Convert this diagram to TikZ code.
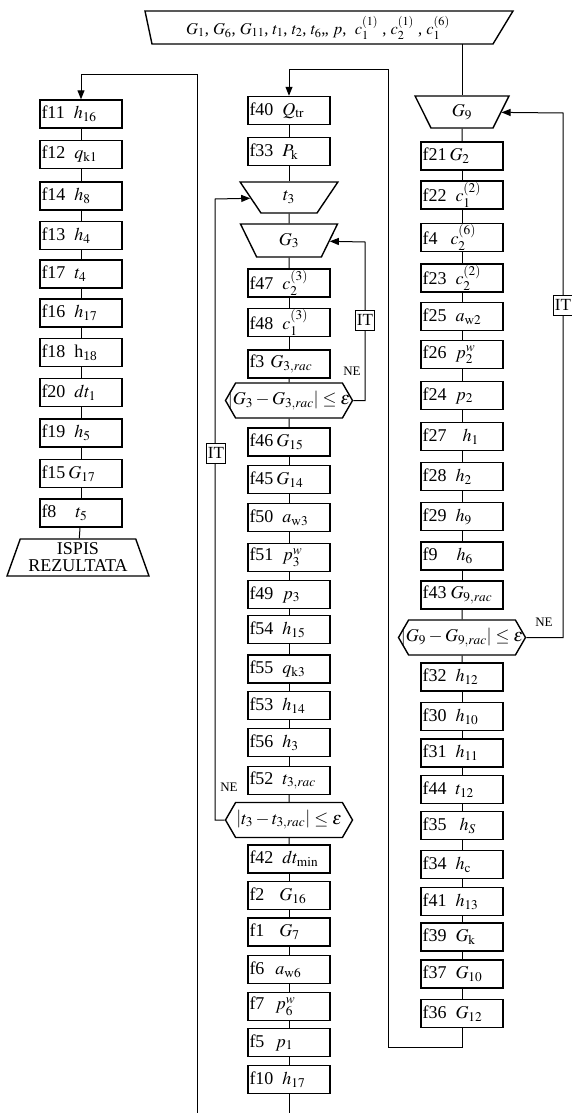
\documentclass[tikz,border=0pt]{standalone}
\usepackage{mathptmx}
\usepackage[no-math]{fontspec}
\setmainfont{Liberation Serif}
\usetikzlibrary{shapes.geometric,shapes.symbols,arrows.meta}
\tikzset{
  every node/.style={font=\fontsize{18}{20}\selectfont},
  box/.style={draw, line width=1.4pt, minimum height=28pt, text width=79pt, inner xsep=1.5pt, inner ysep=0pt, align=left},
  ln/.style={line width=1pt},
  arr/.style={line width=1pt, -{Triangle[length=9pt,width=7pt]}},
  trap/.style={draw, line width=1.4pt, trapezium, trapezium stretches=true, inner sep=0pt},
  dec/.style={draw, line width=1.4pt, signal, signal to=west and east, signal pointer angle=120, minimum height=35pt, inner xsep=0pt, inner ysep=0pt},
  itbox/.style={draw, fill=white, line width=1pt, inner xsep=1.5pt, inner ysep=1pt, minimum height=20pt, font=\fontsize{17}{18}\selectfont},
  lbl/.style={font=\fontsize{13}{15}\selectfont, inner sep=0pt}
}
\begin{document}
\begin{tikzpicture}[x=1pt,y=-1pt]
\useasboundingbox (0,0) rectangle (572,1113);
% input
\draw[line width=1.4pt] (145,11) -- (513,11) -- (493,44) -- (152,44) -- cycle;
\node[font=\fontsize{16.5}{19}\selectfont] (in) at (318,28) {$G_1$, $G_6$, $G_{11}$, $t_1$, $t_2$, $t_6$,, $p$, \ $c_1^{(1)}$ , $c_2^{(1)}$ , $c_1^{(6)}$};
\coordinate (inb) at (462,44);
% left column
\node[box] (l11) at (81,114) {f11\hspace{9pt}$h_{16}$};
\node[box] (l12) at (81,154.5) {f12\hspace{9pt}$q_{\mathrm{k1}}$};
\node[box] (l14) at (81,196) {f14\hspace{9pt}$h_8$};
\node[box] (l13) at (81,235.5) {f13\hspace{9pt}$h_4$};
\node[box] (l17) at (81,274) {f17\hspace{9pt}$t_4$};
\node[box] (l16) at (81,313) {f16\hspace{9pt}$h_{17}$};
\node[box] (l18) at (81,352.5) {f18\hspace{9pt}h\textsubscript{18}};
\node[box] (l20) at (81,392.5) {f20\hspace{9pt}$dt_1$};
\node[box] (l19) at (81,433) {f19\hspace{9pt}$h_5$};
\node[box] (l15) at (81,473.5) {f15\hspace{3pt}$G_{17}$};
\node[box] (l8) at (81,513) {f8\hspace{19pt}$t_5$};
\node[trap, trapezium angle=68.6, minimum width=142pt, minimum height=37pt, align=center, font=\fontsize{18}{17}\selectfont] (lout) at (78,557.5) {ISPIS\\REZULTATA};
% middle column
\node[box] (m40) at (289,110.5) {f40\hspace{9pt}$Q_{\mathrm{tr}}$};
\node[box] (m33) at (289,151.5) {f33\hspace{9pt}$P_{\mathrm{k}}$};
\node[trap, shape border rotate=180, trapezium angle=71, minimum width=98pt, minimum height=31pt] (mt3) at (289,197.5) {$t_3$};
\node[trap, shape border rotate=180, trapezium angle=71.5, minimum width=97pt, minimum height=33pt] (mG3) at (289,240.5) {$G_3$};
\node[box] (m47) at (289,283) {f47\hspace{9pt}$c_2^{(3)}$};
\node[box] (m48) at (289,322.5) {f48\hspace{9pt}$c_1^{(3)}$};
\node[box] (m3) at (289,364) {f3\hspace{6pt}$G_{3,rac}$};
\node[dec, minimum width=127pt] (md1) at (289,400.5) {\makebox[98pt]{$\left|G_3-G_{3,rac}\right|\le\varepsilon$}};
\node[box] (m46) at (289,442) {f46\hspace{3pt}$G_{15}$};
\node[box] (m45) at (289,479.5) {f45\hspace{3pt}$G_{14}$};
\node[box] (m50) at (289,517.5) {f50\hspace{9pt}$a_{\mathrm{w3}}$};
\node[box] (m51) at (289,557.5) {f51\hspace{9pt}$p_3^{w}$};
\node[box] (m49) at (289,594.5) {f49\hspace{9pt}$p_3$};
\node[box] (m54) at (289,629.5) {f54\hspace{9pt}$h_{15}$};
\node[box] (m55) at (289,669) {f55\hspace{9pt}$q_{\mathrm{k3}}$};
\node[box] (m53) at (289,705.5) {f53\hspace{9pt}$h_{14}$};
\node[box] (m56) at (289,742.5) {f56\hspace{9pt}$h_3$};
\node[box] (m52) at (289,780.5) {f52\hspace{9pt}$t_{3,rac}$};
\node[dec, minimum width=127pt] (md2) at (289,820) {\makebox[98pt]{$\left|t_3-t_{3,rac}\right|\le\varepsilon$}};
\node[box] (m42) at (289,859) {f42\hspace{9pt}$dt_{\min}$};
\node[box] (m2) at (289,895.5) {f2\hspace{15pt}$G_{16}$};
\node[box] (m1) at (289,932) {f1\hspace{15pt}$G_7$};
\node[box] (m6) at (289,969.5) {f6\hspace{11pt}$a_{\mathrm{w6}}$};
\node[box] (m7) at (289,1006.5) {f7\hspace{11pt}$p_6^{w}$};
\node[box] (m5) at (289,1042.5) {f5\hspace{11pt}$p_1$};
\node[box] (m10) at (289,1079.5) {f10\hspace{9pt}$h_{17}$};
% right column
\node[trap, shape border rotate=180, trapezium angle=71, minimum width=94pt, minimum height=32pt] (rG9) at (462,112) {$G_9$};
\node[box] (r21) at (462,156) {f21\hspace{3pt}$G_2$};
\node[box] (r22) at (462,195) {f22\hspace{9pt}$c_1^{(2)}$};
\node[box] (r4) at (462,237.5) {f4\hspace{13pt}$c_2^{(6)}$};
\node[box] (r23) at (462,278) {f23\hspace{9pt}$c_2^{(2)}$};
\node[box] (r25) at (462,316.5) {f25\hspace{9pt}$a_{\mathrm{w2}}$};
\node[box] (r26) at (462,354.5) {f26\hspace{9pt}$p_2^{w}$};
\node[box] (r24) at (462,395.5) {f24\hspace{9pt}$p_2$};
\node[box] (r27) at (462,436.5) {f27\hspace{16pt}$h_1$};
\node[box] (r28) at (462,476.5) {f28\hspace{9pt}$h_2$};
\node[box] (r29) at (462,516.5) {f29\hspace{9pt}$h_9$};
\node[box] (r9) at (462,556) {f9\hspace{19pt}$h_6$};
\node[box] (r43) at (462,595) {f43\hspace{4pt}$G_{9,rac}$};
\node[dec, minimum width=127pt] (rd) at (462,637.5) {\makebox[98pt]{$\left|G_9-G_{9,rac}\right|\le\varepsilon$}};
\node[box] (r32) at (462,677) {f32\hspace{9pt}$h_{12}$};
\node[box] (r30) at (462,716.5) {f30\hspace{9pt}$h_{10}$};
\node[box] (r31) at (462,753) {f31\hspace{9pt}$h_{11}$};
\node[box] (r44) at (462,789.5) {f44\hspace{9pt}$t_{12}$};
\node[box] (r35) at (462,825.5) {f35\hspace{13pt}$h_S$};
\node[box] (r34) at (462,864.5) {f34\hspace{9pt}$h_{\mathrm{c}}$};
\node[box] (r41) at (462,901.5) {f41\hspace{9pt}$h_{13}$};
\node[box] (r39) at (462,937) {f39\hspace{9pt}$G_{\mathrm{k}}$};
\node[box] (r37) at (462,974) {f37\hspace{9pt}$G_{10}$};
\node[box] (r36) at (462,1013.5) {f36\hspace{9pt}$G_{12}$};
% chains
\foreach \a/\b in {l11/l12,l12/l14,l14/l13,l13/l17,l17/l16,l16/l18,l18/l20,l20/l19,l19/l15,l15/l8,l8/lout,
  m40/m33,m33/mt3,mt3/mG3,mG3/m47,m47/m48,m48/m3,m3/md1,md1/m46,m46/m45,m45/m50,m50/m51,m51/m49,m49/m54,m54/m55,m55/m53,m53/m56,m56/m52,m52/md2,md2/m42,m42/m2,m2/m1,m1/m6,m6/m7,m7/m5,m5/m10,
  rG9/r21,r21/r22,r22/r4,r4/r23,r23/r25,r25/r26,r26/r24,r24/r27,r27/r28,r28/r29,r29/r9,r9/r43,r43/rd,rd/r32,r32/r30,r30/r31,r31/r44,r44/r35,r35/r34,r34/r41,r41/r39,r39/r37,r37/r36}
  \draw[ln] (\a) -- (\b);
\draw[ln] (inb) -- (rG9);
% big loops
\coordinate (c2) at (388,1047);
\coordinate (c3) at (388,70);
\draw[arr] (r36) |- (c2) -- (c3) -| (m40);
\coordinate (b1) at (197,1113);
\coordinate (b2) at (197,75);
\draw[arr] (b1) -- (b2) -| (l11);
\coordinate (b3) at (289,1113);
\draw[ln] (m10) -- (b3);
% iteration loops
\coordinate (q1) at (563,637.5);
\coordinate (q2) at (563,113);
\draw[arr] (rd) -- (q1) -- (q2) -- (rG9);
\coordinate (p1) at (365,400.5);
\coordinate (p2) at (365,242);
\draw[arr] (md1) -- (p1) -- (p2) -- (mG3);
\coordinate (s1) at (215,820);
\coordinate (s2) at (215,199);
\draw[arr] (md2) -- (s1) -- (s2) -- (mt3);
\node[itbox] (it1) at (563,305) {IT};
\node[itbox] (it2) at (365,320) {IT};
\node[itbox] (it3) at (216,453) {IT};
\node[lbl] (ne1) at (544,622) {NE};
\node[lbl] (ne2) at (352,371) {NE};
\node[lbl] (ne3) at (229,787) {NE};
\end{tikzpicture}
\end{document}
